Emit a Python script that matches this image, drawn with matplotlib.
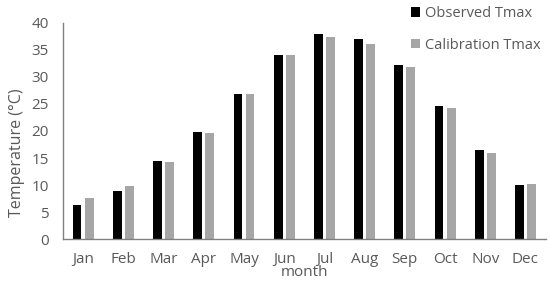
import matplotlib
matplotlib.use("Agg")
import matplotlib.pyplot as plt
import numpy as np

months = ["Jan", "Feb", "Mar", "Apr", "May", "Jun", "Jul", "Aug", "Sep", "Oct", "Nov", "Dec"]
observed = [6.3, 8.9, 14.5, 19.8, 26.8, 34.0, 37.9, 36.9, 32.1, 24.7, 16.4, 10.0]
calibration = [7.6, 9.8, 14.3, 19.6, 26.9, 34.0, 37.4, 36.1, 31.8, 24.2, 15.9, 10.2]

plt.rcParams['font.family'] = ['Open Sans', 'DejaVu Sans']
txt = "#595959"

W, H = 550, 286
fig = plt.figure(figsize=(5.5, 2.86), dpi=100)
ax = fig.add_axes([63/W, 1-239.3/H, (545.6-63)/W, (239.3-22.7)/H])

x = np.arange(len(months))
w = 0.22
ax.bar(x - 0.15, observed, w, color="black", label="Observed Tmax")
ax.bar(x + 0.15, calibration, w, color="#a6a6a6", label="Calibration Tmax")

ax.set_xlim(-0.5, 11.5)
ax.set_ylim(0, 40)
ax.set_yticks(range(0, 41, 5))
ax.set_xticks(x)
ax.set_xticklabels(months)
ax.tick_params(axis='both', length=0, colors=txt, labelsize=11)
ax.tick_params(axis='x', pad=9)
ax.tick_params(axis='y', pad=10)
for s in ["top", "right"]:
    ax.spines[s].set_visible(False)
for s in ["left", "bottom"]:
    ax.spines[s].set_color("#808080")
    ax.spines[s].set_linewidth(1.0)
ax.set_ylabel("Temperature (°C)", color=txt, fontsize=11.5, va="center")
ax.yaxis.set_label_coords(-0.096, 0.40)
ax.xaxis.set_label_coords(0.5, -0.155)
ax.set_xlabel("month", color=txt, fontsize=11, va="center")

handles, labels = ax.get_legend_handles_labels()
fig.legend(handles, labels, loc="upper left", bbox_to_anchor=(411/W, 1-6/H),
           frameon=False, fontsize=10.5, handlelength=0.62, handleheight=0.62,
           handletextpad=0.35, labelspacing=1.15, borderpad=0, borderaxespad=0,
           labelcolor=txt)

fig.savefig("out.png", dpi=100)
